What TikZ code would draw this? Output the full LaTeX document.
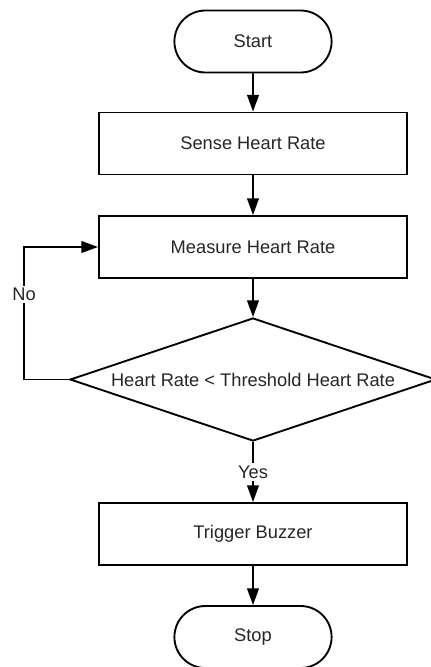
\documentclass[tikz,border=0pt]{standalone}
\usepackage{fontspec}
\setmainfont{Liberation Sans}
\usetikzlibrary{arrows.meta, shapes.geometric, shapes.misc}

\begin{document}
\begin{tikzpicture}[x=0.03cm, y=-0.03cm,
    every node/.style={font=\fontsize{15.6}{18}\selectfont, text=black!85},
    terminal/.style={draw, line width=1.6pt, rounded rectangle, minimum width=4.95cm, minimum height=1.86cm},
    process/.style={draw, line width=1.6pt, rectangle, minimum width=9.24cm, minimum height=1.86cm},
    decision/.style={draw, line width=1.6pt, diamond, inner sep=0pt, aspect=2.98, minimum width=10.98cm, minimum height=3.69cm},
    flow/.style={line width=1.6pt, -{Triangle[length=0.5cm, width=0.35cm]}},
    flowlabel/.style={fill=white, inner sep=2pt}]
    \useasboundingbox (0,0) rectangle (431,667);

    % Define nodes
    \node[terminal] (start) at (253,41.5) {Start};
    \node[process] (sense) at (253,143.5) {Sense Heart Rate};
    \node[process] (measure) at (253,247) {Measure Heart Rate};
    \node[decision] (decide) at (253,379.5) {Heart Rate < Threshold Heart Rate};
    \node[process] (trigger) at (253,534) {Trigger Buzzer};
    \node[terminal] (stop) at (253,637) {Stop};
    \coordinate (bend) at (24,379.5);

    % Draw arrows
    \draw[flow] (start) -- (sense);
    \draw[flow] (sense) -- (measure);
    \draw[flow] (measure) -- (decide);
    \draw[flow] (decide) -- node[flowlabel] {Yes} (trigger);
    \draw[flow] (trigger) -- (stop);
    \draw[flow] (decide.west) -- (bend) |- node[flowlabel, pos=0.32] {No} (measure.west); % loop back
\end{tikzpicture}
\end{document}
